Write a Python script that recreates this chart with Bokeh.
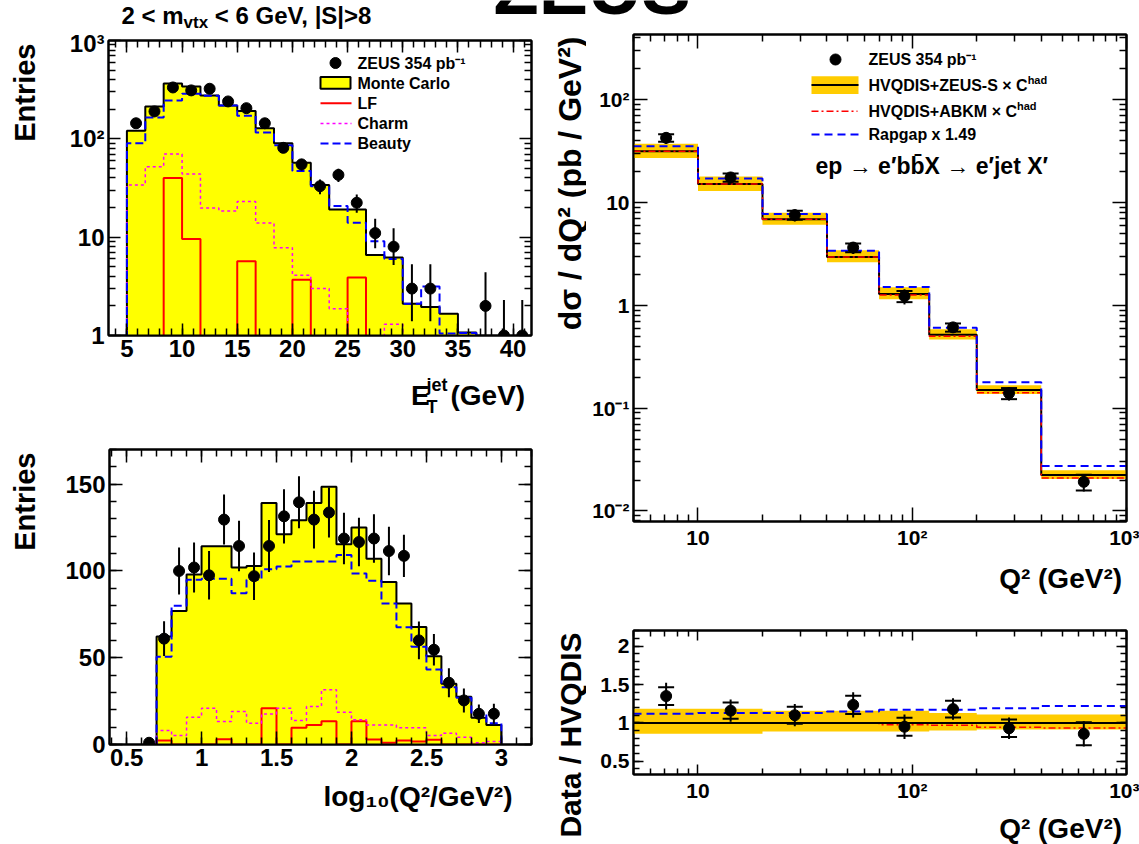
from math import log10, pi
from bokeh.plotting import figure
from bokeh.layouts import column, row
from bokeh.models import (Label, FixedTicker, LinearAxis, LogAxis,
                          NumeralTickFormatter, Range1d, Span)
from bokeh.embed import file_html
from bokeh.resources import INLINE

FONT = "Liberation Sans"
NAN = float("nan")

# ---------------- panel a : E_T^jet (log y) ----------------
et_edges = [5, 6.667, 8.333, 10, 11.667, 13.333, 15, 16.667, 18.333, 20, 21.667,
            23.333, 25, 26.667, 28.333, 30, 31.667, 33.333, 35, 36.667, 38.333, 40, 41.667]
et_x = [5.83, 7.5, 9.17, 10.83, 12.5, 14.17, 15.83, 17.5, 19.17, 20.83, 22.5,
        24.17, 25.83, 27.5, 29.17, 30.83, 32.5, 34.17, 35.83, 37.5, 39.17, 40.83]
et_data = [144, 190, 333, 311, 323, 240, 205, 144, 81, 55, 33,
           43, 22.4, 11, 8, 3, 3, NAN, NAN, 2, 1, 1]
et_err_lo = [12, 14, 18, 18, 18, 15.5, 14, 12, 9, 7.4, 5.7,
             6.6, 4.7, 3.3, 2.8, 1.6, 1.6, NAN, NAN, 1.3, 0.8, 0.8]
et_err_hi = [12, 14, 18, 18, 18, 15.5, 14, 12, 9, 7.4, 5.7,
             6.6, 4.7, 4.4, 4.3, 2.3, 2.3, NAN, NAN, 2.4, 1.3, 1.3]
et_mc = [121, 213, 366, 341, 276, 218, 192, 128, 90, 57, 34,
         19.1, 19.1, 6.6, 6.2, 2.1, 1.95, 1.66, 1.07, 0, 0, 0]
et_beauty = [90, 165, 245, 287, 274, 218, 172, 116, 86, 47, 33,
             20.7, 14, 9.1, 6.0, 2.1, 3.15, 1.05, 1.06, 0, 0, 0]
et_charm = [34, 52, 70, 44, 19.8, 18.5, 23, 13.9, 7.8, 4.1, 3.0,
            1.87, 0, 0, 1.3, 0, 0, 0, 0, 0, 0, 0]
et_lf = [0, 0, 40, 9.6, 0, 0, 5.7, 0, 0, 3.7, 0,
         0, 3.9, 0, 0, 0, 0, 0, 0, 0, 0, 0]

# ---------------- panel b : log10(Q2) (linear y) ----------------
lq_edges = [0.599, 0.699, 0.799, 0.899, 0.999, 1.099, 1.199, 1.299, 1.399, 1.499, 1.599,
            1.699, 1.799, 1.899, 1.999, 2.099, 2.199, 2.299, 2.399, 2.499, 2.599, 2.699,
            2.799, 2.899, 2.999]
lq_x = [0.649, 0.749, 0.849, 0.949, 1.049, 1.149, 1.249, 1.349, 1.449, 1.549, 1.649, 1.749,
        1.849, 1.949, 2.049, 2.149, 2.249, 2.349, 2.449, 2.549, 2.649, 2.749, 2.849, 2.949]
lq_data = [1, 61, 100, 102, 97.5, 129.6, 114.4, 97, 114.4, 131.5, 139.6, 129.6,
           133.7, 118.7, 116.7, 118.7, 111.5, 108.7, 60, 54.6, 35.6, 25.4, 17.7, 17.7]
lq_err = [1, 10, 13.5, 14.4, 14, 14.4, 14.6, 13.7, 15, 15.6, 15, 16.6,
          14.4, 14.8, 14, 14, 14, 12.2, 10.9, 9.1, 8.3, 6.9, 5.3, 5.8]
lq_mc = [0, 62.3, 76.9, 97.9, 114.2, 114.2, 102, 102.9, 139.2, 121.2, 129.2, 139.2,
         148.5, 115.4, 125, 107.1, 93.7, 81.2, 67.7, 50.8, 35, 27.5, 15.4, 11.3]
lq_beauty = [0, 50.6, 80, 95, 95.5, 95.5, 87.1, 95, 101, 102.6, 105.5, 105.5,
             105.5, 109.2, 98.6, 94.4, 81.3, 67.5, 56.4, 43.2, 33, 26.9, 17.6, 12.3]
lq_charm = [0, 8.1, 5.2, 15.7, 20.9, 13.2, 19, 12.3, 17.6, 20.9, 13.8, 21.9,
            31.5, 18.6, 14.2, 11.3, 11.3, 9.6, 9.6, 5.2, 6.5, 4.2, 1.0, 1.7]
lq_lf = [0, 2.3, 0, 0, 0, 3, 0, 0, 20.9, 0, 9.6, 11.3,
         13.4, 0, 13.4, 2.9, 1.0, 2.3, 1.7, 2.7, 0, 0, 0, 0]

# ---------------- panels c/d : dsigma/dQ2 and ratio ----------------
q2_edges = [5, 10, 20, 40, 70, 120, 200, 400, 1000]
q2_x = [7.1, 14.2, 28.3, 53, 92, 155, 283, 632]
hvqdis = [31.5, 15.1, 6.85, 2.95, 1.29, 0.517, 0.150, 0.0224]
band_lo = [0.857, 0.857, 0.887, 0.887, 0.887, 0.90, 0.913, 0.913]
band_hi = [1.183, 1.183, 1.16, 1.16, 1.16, 1.13, 1.11, 1.11]
abkm_ratio = [1.0, 1.0, 1.0, 1.0, 0.975, 0.968, 0.943, 0.935]
rapgap_ratio = [1.12, 1.13, 1.13, 1.15, 1.17, 1.17, 1.19, 1.22]
data_ratio = [1.35, 1.16, 1.10, 1.235, 0.95, 1.18, 0.93, 0.857]
stat_err = [0.115, 0.107, 0.11, 0.12, 0.118, 0.108, 0.115, 0.15]
tot_err = [0.175, 0.145, 0.145, 0.165, 0.16, 0.14, 0.14, 0.165]

# ---------------- helpers ----------------
W = {' ': 278, '<': 584, '>': 584, '|': 280, ',': 278, '(': 333, ')': 333, '/': 278,
     '-': 333, '+': 584, '.': 278, '\u00d7': 584,
     'A': 722, 'B': 722, 'C': 722, 'D': 722, 'E': 667, 'F': 611, 'G': 778, 'H': 722,
     'I': 278, 'K': 722, 'L': 611, 'M': 833, 'N': 722, 'O': 778, 'P': 667, 'Q': 778,
     'R': 722, 'S': 667, 'T': 611, 'U': 722, 'V': 667, 'X': 667, 'Z': 611,
     'a': 556, 'b': 611, 'c': 556, 'd': 611, 'e': 556, 'f': 333, 'g': 611, 'h': 611,
     'i': 278, 'j': 278, 'k': 556, 'l': 278, 'm': 889, 'n': 611, 'o': 611, 'p': 611,
     'r': 389, 's': 556, 't': 333, 'u': 611, 'v': 556, 'x': 556, 'y': 556}


def tw(s, size):
    return sum(W.get(c, 556) for c in s) * size / 1000.0


def mapper(X0, X1, Y0, Y1, xr, yr, xlog=False, ylog=False):
    def conv(P, p0, p1, r, lg):
        t = (P - p0) / (p1 - p0)
        if lg:
            a, b = log10(r[0]), log10(r[1])
            return 10 ** (a + t * (b - a))
        return r[0] + t * (r[1] - r[0])
    return (lambda X: conv(X, X0, X1, xr, xlog)), (lambda Y: conv(Y, Y1, Y0, yr, ylog))


def label(p, fx, fy, X, Y, text, size, align="left", angle=0.0, bold=True):
    # (X, Y) is the baseline anchor in page pixels; text is drawn middle-anchored
    if angle == 0.0:
        Xc, Yc = X, Y - 0.35 * size
    else:
        Xc, Yc = X - 0.35 * size, Y
    p.add_layout(Label(x=fx(Xc), y=fy(Yc), text=text, text_font=FONT,
                       text_font_size=f"{size}px",
                       text_font_style="bold" if bold else "normal",
                       text_align=align, text_baseline="middle", angle=angle,
                       text_color="black"))


def compose(p, fx, fy, X, Y, pieces, align="left"):
    total = sum(tw(t, s) for t, s, dy, adv in pieces if adv)
    x = X - total if align == "right" else X
    for t, s, dy, adv in pieces:
        lead = len(t) - len(t.lstrip(" "))
        label(p, fx, fy, x + tw(" " * lead, s), Y + dy, t.lstrip(" "), s)
        if adv:
            x += tw(t, s)


def textfig(w, h, X0, Y0):
    f = figure(width=w, height=h, x_range=Range1d(0, w), y_range=Range1d(0, h),
               toolbar_location=None, output_backend="svg",
               x_axis_location=None, y_axis_location=None,
               min_border_left=0, min_border_right=0, min_border_top=0, min_border_bottom=0)
    try:
        f.title = None
    except Exception:
        f.title.visible = False
    f.grid.visible = False
    f.outline_line_color = None
    return f, (lambda X: X - X0), (lambda Y: (Y0 + h) - Y)


def make_fig(w, h, left, right, top, bottom, xr, yr, xlog=False, ylog=False):
    p = figure(width=w, height=h, x_range=Range1d(*xr), y_range=Range1d(*yr),
               x_axis_type="log" if xlog else "linear",
               y_axis_type="log" if ylog else "linear",
               toolbar_location=None, output_backend="svg",
               min_border_left=left, min_border_right=right,
               min_border_top=top, min_border_bottom=bottom)
    p.grid.visible = False
    p.outline_line_color = "black"
    p.outline_line_width = 2
    p.background_fill_color = "white"
    p.border_fill_color = "white"
    return p


def style_axis(ax, ticks, minor, maj, mnr, size=20, show=True, overrides=None, fmt=None):
    ax.ticker = FixedTicker(ticks=ticks, minor_ticks=minor)
    ax.major_tick_in = maj
    ax.major_tick_out = 0
    ax.minor_tick_in = mnr
    ax.minor_tick_out = 0
    ax.axis_line_width = 2
    ax.major_tick_line_width = 1.5
    ax.minor_tick_line_width = 1.5
    if show:
        ax.major_label_text_font = FONT
        ax.major_label_text_font_style = "bold"
        ax.major_label_text_font_size = f"{size}px"
        ax.major_label_text_color = "black"
        ax.major_label_standoff = 4
        if overrides:
            ax.major_label_overrides = overrides
        if fmt is not None:
            ax.formatter = fmt
    else:
        ax.major_label_overrides = {t: "" for t in ticks}
        ax.major_label_text_font_size = "1px"
        ax.major_label_standoff = 0


def all_axes(p, xlog, ylog, xt, xm, yt, ym, maj, mnr, size, xo=None, yo=None, xf=None, yf=None):
    style_axis(p.xaxis[0], xt, xm, maj, mnr, size, True, xo, xf)
    style_axis(p.yaxis[0], yt, ym, maj, mnr, size, True, yo, yf)
    top = LogAxis() if xlog else LinearAxis()
    right = LogAxis() if ylog else LinearAxis()
    style_axis(top, xt, xm, maj, mnr, size, False)
    style_axis(right, yt, ym, maj, mnr, size, False)
    p.add_layout(top, "above")
    p.add_layout(right, "right")


def outline(edges, vals, base):
    xs, ys = [edges[0]], [base]
    for i, v in enumerate(vals):
        vv = v if v > base else base
        xs += [edges[i], edges[i + 1]]
        ys += [vv, vv]
    xs.append(edges[-1])
    ys.append(base)
    return xs, ys


def steps(edges, vals):
    xs, ys = [], []
    for i, v in enumerate(vals):
        xs += [edges[i], edges[i + 1]]
        ys += [v, v]
    return xs, ys


def band_patch(edges, lo, hi):
    xu, yu = steps(edges, hi)
    xl, yl = steps(edges, lo)
    return xu + xl[::-1], yu + yl[::-1]


# ---------------- top strip: ZEUS + selection title ----------------
p0, f0x, f0y = textfig(1139, 29, 0, 0)
label(p0, f0x, f0y, 493, 14, "ZEUS", 74)
compose(p0, f0x, f0y, 121, 23, [("2 < m", 24, 0, True), ("vtx", 17, 5, True),
                                  (" < 6 GeV, |S|>8", 24, 0, True)])

# ---------------- panel a ----------------
xr1, yr1 = (3.333, 41.667), (1, 1000)
p1 = make_fig(510, 343, 66, 21, 11, 37, xr1, yr1, False, True)
fx1, fy1 = mapper(108, 531, 40, 335, xr1, yr1, False, True)
all_axes(p1, False, True,
         [5, 10, 15, 20, 25, 30, 35, 40], list(range(4, 42)),
         [1, 10, 100, 1000], [m * 10 ** e for e in range(3) for m in range(2, 10)],
         12, 7, 24, yo={1: "1", 10: "10", 100: "10\u00b2", 1000: "10\u00b3"})
b1 = 0.3
xs, ys = outline(et_edges, et_mc, b1)
p1.patch(xs, ys, fill_color="#FFFF00", line_color=None)
p1.line(xs, ys, color="black", line_width=2)
xs, ys = outline(et_edges, et_lf, b1)
p1.line(xs, ys, color="#FF0000", line_width=2)
xs, ys = outline(et_edges, et_charm, b1)
p1.line(xs, ys, color="#FF00FF", line_width=1.5, line_dash="3 3")
xs, ys = outline(et_edges, et_beauty, b1)
p1.line(xs, ys, color="#0000FF", line_width=2, line_dash="8 4")
ok = [i for i, v in enumerate(et_data) if v == v]
p1.segment(x0=[et_x[i] for i in ok], x1=[et_x[i] for i in ok],
           y0=[max(et_data[i] - et_err_lo[i], 0.1) for i in ok],
           y1=[et_data[i] + et_err_hi[i] for i in ok], color="black", line_width=2)
p1.scatter([et_x[i] for i in ok], [et_data[i] for i in ok], size=11, color="black")
# legend
p1.scatter([fx1(335)], [fy1(62.5)], size=11, color="black")
p1.quad(left=[fx1(320)], right=[fx1(350)], bottom=[fy1(88.3)], top=[fy1(76.6)],
        fill_color="#FFFF00", line_color="black", line_width=2)
p1.line([fx1(320), fx1(351)], [fy1(102.7)] * 2, color="#FF0000", line_width=2)
p1.line([fx1(320), fx1(351)], [fy1(122.9)] * 2, color="#FF00FF", line_width=1.5, line_dash="3 3")
p1.line([fx1(320), fx1(351)], [fy1(143)] * 2, color="#0000FF", line_width=2, line_dash="8 4")
for Yc, t in [(62.5, "ZEUS 354 pb\u207b\u00b9"), (82.5, "Monte Carlo"), (102.7, "LF"),
              (122.9, "Charm"), (143, "Beauty")]:
    label(p1, fx1, fy1, 357, Yc + 6, t, 16)

xt1, fxt1, fyt1 = textfig(510, 48, 42, 372)
compose(xt1, fxt1, fyt1, 529, 405, [("E", 28, 0, True), ("T", 18, 8, False),
                                      ("jet", 18, -14, True), (" (GeV)", 28, 0, True)],
        align="right")
yl1, fyl1x, fyl1y = textfig(42, 391, 0, 29)
label(yl1, fyl1x, fyl1y, 35, 43, "Entries", 29, align="right", angle=pi / 2)

# ---------------- panel b ----------------
xr2, yr2 = (0.385, 3.2), (0, 170)
p2 = make_fig(510, 362, 67, 21, 29, 38, xr2, yr2)
fx2, fy2 = mapper(109, 531, 449, 744, xr2, yr2)
all_axes(p2, False, False,
         [0.5, 1, 1.5, 2, 2.5, 3], [0.4 + 0.1 * k for k in range(29)],
         [0, 50, 100, 150], list(range(0, 171, 10)),
         13, 7, 24, xf=NumeralTickFormatter(format="0.[0]"))
xs, ys = outline(lq_edges[1:], lq_mc[1:], 0)
p2.patch(xs, ys, fill_color="#FFFF00", line_color=None)
p2.line(xs, ys, color="black", line_width=2)
xs, ys = outline(lq_edges[1:], lq_lf[1:], 0)
p2.line(xs, ys, color="#FF0000", line_width=2)
xs, ys = outline(lq_edges[1:], lq_charm[1:], 0)
p2.line(xs, ys, color="#FF00FF", line_width=1.5, line_dash="3 3")
xs, ys = outline(lq_edges[1:], lq_beauty[1:], 0)
p2.line(xs, ys, color="#0000FF", line_width=2, line_dash="8 4")
p2.segment(x0=lq_x, x1=lq_x, y0=[v - e for v, e in zip(lq_data, lq_err)],
           y1=[v + e for v, e in zip(lq_data, lq_err)], color="black", line_width=2)
p2.scatter(lq_x, lq_data, size=11, color="black")

xt2, fxt2, fyt2 = textfig(510, 62, 42, 782)
label(xt2, fxt2, fyt2, 529, 806, "log\u2081\u2080(Q\u00b2/GeV\u00b2)", 28, align="right")
yl2, fyl2x, fyl2y = textfig(42, 424, 0, 420)
label(yl2, fyl2x, fyl2y, 35, 452, "Entries", 29, align="right", angle=pi / 2)

# ---------------- panel c ----------------
xr3, yr3 = (5, 1000), (0.0079, 430)
p3 = make_fig(553, 531, 47, 13, 5, 39, xr3, yr3, True, True)
fx3, fy3 = mapper(633, 1126, 34, 521, xr3, yr3, True, True)
q_minor = [5, 6, 7, 8, 9, 20, 30, 40, 50, 60, 70, 80, 90, 200, 300, 400, 500, 600, 700, 800, 900]
all_axes(p3, True, True,
         [10, 100, 1000], q_minor,
         [0.01, 0.1, 1, 10, 100],
         [m * 10.0 ** e for e in range(-3, 3) for m in range(2, 10)],
         14, 7, 21,
         xo={10: "10", 100: "10\u00b2", 1000: "10\u00b3"},
         yo={0.01: "10\u207b\u00b2", 0.1: "10\u207b\u00b9", 1: "1", 10: "10", 100: "10\u00b2"})
xs, ys = band_patch(q2_edges, [h * l for h, l in zip(hvqdis, band_lo)],
                    [h * u for h, u in zip(hvqdis, band_hi)])
p3.patch(xs, ys, fill_color="#FFCC00", line_color=None)
xs, ys = steps(q2_edges, hvqdis)
p3.line(xs, ys, color="black", line_width=2)
xs, ys = steps(q2_edges, [h * r for h, r in zip(hvqdis, abkm_ratio)])
p3.line(xs, ys, color="#FF0000", line_width=1.5, line_dash="7 3 2 3")
xs, ys = steps(q2_edges, [h * r for h, r in zip(hvqdis, rapgap_ratio)])
p3.line(xs, ys, color="#0000FF", line_width=2, line_dash="8 5")
xsec = [h * r for h, r in zip(hvqdis, data_ratio)]
p3.segment(x0=q2_x, x1=q2_x, y0=[h * (r - e) for h, r, e in zip(hvqdis, data_ratio, tot_err)],
           y1=[h * (r + e) for h, r, e in zip(hvqdis, data_ratio, tot_err)],
           color="black", line_width=2)
p3.scatter(q2_x + q2_x, [h * (r - e) for h, r, e in zip(hvqdis, data_ratio, stat_err)] +
           [h * (r + e) for h, r, e in zip(hvqdis, data_ratio, stat_err)],
           marker="dash", size=16, line_width=2, color="black")
p3.scatter(q2_x, xsec, size=11, color="black")
# legend
p3.scatter([fx3(835)], [fy3(59)], size=11, color="black")
p3.quad(left=[fx3(811)], right=[fx3(858)], bottom=[fy3(93.6)], top=[fy3(75.7)],
        fill_color="#FFCC00", line_color=None)
p3.line([fx3(811), fx3(858)], [fy3(84.6)] * 2, color="black", line_width=2)
p3.line([fx3(811), fx3(857)], [fy3(110.7)] * 2, color="#FF0000", line_width=1.5,
        line_dash="7 3 2 3")
p3.line([fx3(811), fx3(858)], [fy3(134)] * 2, color="#0000FF", line_width=2, line_dash="8 5")
label(p3, fx3, fy3, 868, 65, "ZEUS 354 pb\u207b\u00b9", 16)
compose(p3, fx3, fy3, 868, 91, [("HVQDIS+ZEUS-S \u00d7 C", 16, 0, True), ("had", 11, -8, True)])
compose(p3, fx3, fy3, 868, 117, [("HVQDIS+ABKM \u00d7 C", 16, 0, True), ("had", 11, -8, True)])
label(p3, fx3, fy3, 868, 140, "Rapgap x 1.49", 16)
label(p3, fx3, fy3, 815, 174, "ep \u2192 e\u2032bb\u0304X \u2192 e\u2032jet X\u2032", 23)

xt3, fxt3, fyt3 = textfig(553, 40, 586, 560)
label(xt3, fxt3, fyt3, 1134, 588, "Q\u00b2 (GeV\u00b2)", 28, align="right")
yl3, fyl3x, fyl3y = textfig(34, 571, 552, 29)
label(yl3, fyl3x, fyl3y, 581, 36, "d\u03c3 / dQ\u00b2 (pb / GeV\u00b2)", 32, align="right", angle=pi / 2)

# ---------------- panel d ----------------
xr4, yr4 = (5, 1000), (0.327, 2.205)
p4 = make_fig(553, 206, 47, 13, 30, 32, xr4, yr4, True, False)
fx4, fy4 = mapper(633, 1126, 630, 774, xr4, yr4, True, False)
all_axes(p4, True, False,
         [10, 100, 1000], q_minor,
         [0.5, 1, 1.5, 2], [0.4 + 0.1 * k for k in range(19)],
         10, 6, 21,
         xo={10: "10", 100: "10\u00b2", 1000: "10\u00b3"},
         yf=NumeralTickFormatter(format="0.[0]"))
xs, ys = band_patch(q2_edges, band_lo, band_hi)
p4.patch(xs, ys, fill_color="#FFCC00", line_color=None)
p4.add_layout(Span(location=1, dimension="width", line_color="black", line_width=2))
xs, ys = steps(q2_edges, abkm_ratio)
p4.line(xs, ys, color="#FF0000", line_width=1.5, line_dash="7 3 2 3")
xs, ys = steps(q2_edges, rapgap_ratio)
p4.line(xs, ys, color="#0000FF", line_width=2, line_dash="8 5")
p4.segment(x0=q2_x, x1=q2_x, y0=[r - e for r, e in zip(data_ratio, tot_err)],
           y1=[r + e for r, e in zip(data_ratio, tot_err)], color="black", line_width=2)
p4.scatter(q2_x + q2_x, [r - e for r, e in zip(data_ratio, stat_err)] +
           [r + e for r, e in zip(data_ratio, stat_err)],
           marker="dash", size=16, line_width=2, color="black")
p4.scatter(q2_x, data_ratio, size=11, color="black")

xt4, fxt4, fyt4 = textfig(553, 38, 586, 806)
label(xt4, fxt4, fyt4, 1134, 838, "Q\u00b2 (GeV\u00b2)", 28, align="right")
yl4, fyl4x, fyl4y = textfig(34, 244, 552, 600)
label(yl4, fyl4x, fyl4y, 580, 632, "Data / HVQDIS", 30, align="right", angle=pi / 2)

left = column(row(yl1, column(p1, xt1)), row(yl2, column(p2, xt2)))
right = column(row(yl3, column(p3, xt3)), row(yl4, column(p4, xt4)))
layout = column(p0, row(left, right))
open("out.html", "w").write(file_html(layout, INLINE))
